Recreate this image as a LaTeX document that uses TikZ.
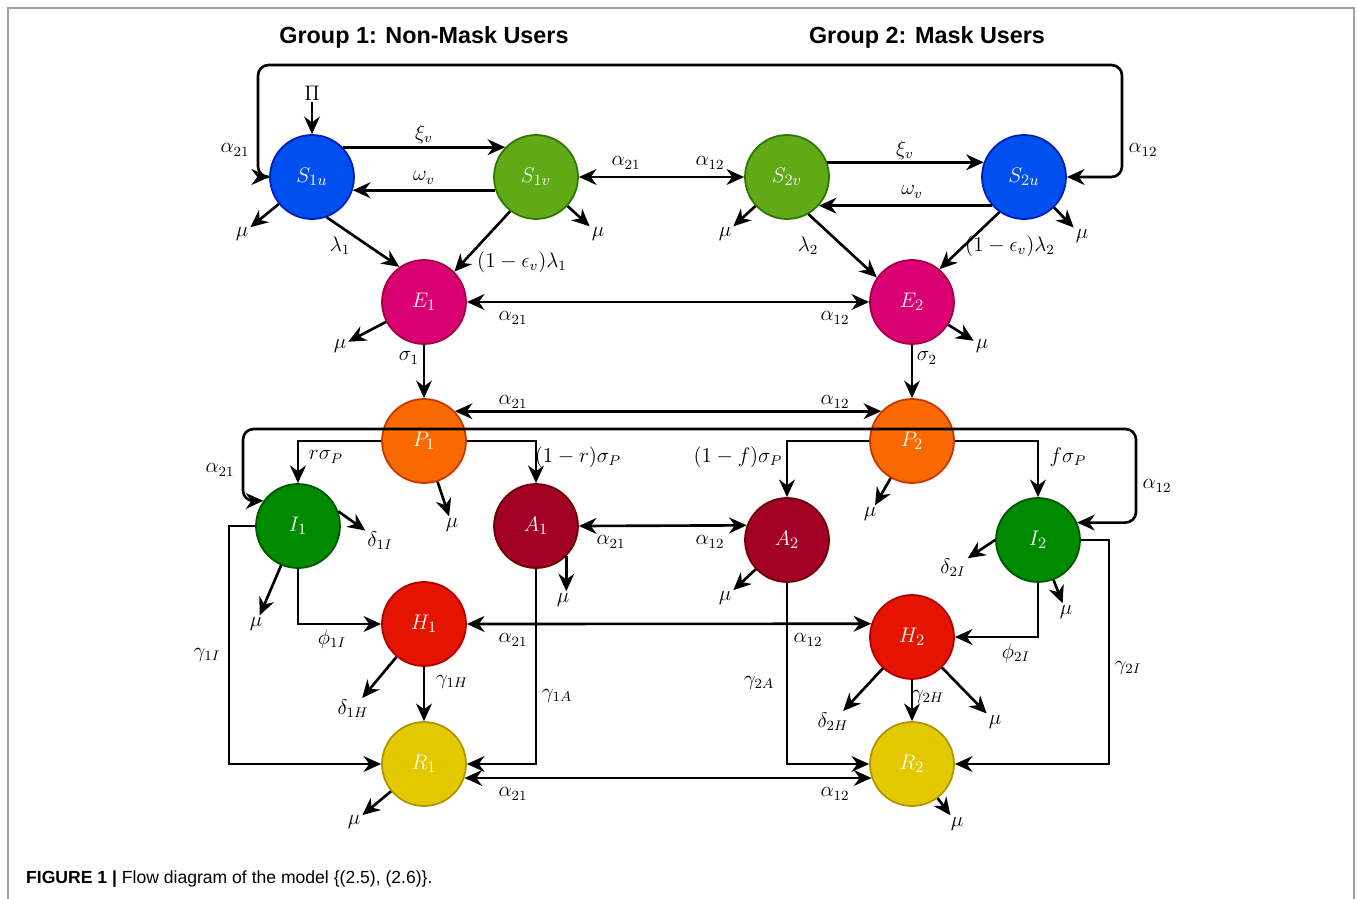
\documentclass[tikz,border=0pt]{standalone}
\usepackage[no-math]{fontspec}
\usepackage{amsmath}
\usetikzlibrary{arrows.meta}
\newfontfamily\arial{Liberation Sans}
\definecolor{sblue}{HTML}{0050EF}
\definecolor{sblueb}{HTML}{001DBC}
\definecolor{sgreen}{HTML}{60A917}
\definecolor{sgreenb}{HTML}{2D7600}
\definecolor{emag}{HTML}{D80073}
\definecolor{emagb}{HTML}{A50040}
\definecolor{porange}{HTML}{FA6800}
\definecolor{porangeb}{HTML}{C73500}
\definecolor{igreen}{HTML}{008A00}
\definecolor{igreenb}{HTML}{005700}
\definecolor{acrim}{HTML}{A20025}
\definecolor{acrimb}{HTML}{6F0000}
\definecolor{hred}{HTML}{E51400}
\definecolor{hredb}{HTML}{B20000}
\definecolor{ryell}{HTML}{E3C800}
\definecolor{ryellb}{HTML}{B09500}

\begin{document}
\begin{tikzpicture}[x=0.02cm, y=-0.02cm,
	nstyle/.style={circle, line width=1pt, minimum size=1.68cm, inner sep=0pt,
	text=white, font=\fontsize{12.5}{14}\selectfont},
	lstyle/.style={inner sep=1pt, font=\fontsize{12}{14}\selectfont},
	ar/.style={-{Stealth[length=10pt,width=9pt]}, line width=1.5pt},
	dar/.style={{Stealth[length=10pt,width=9pt]}-{Stealth[length=10pt,width=9pt]}, line width=1.5pt}
	]
	\useasboundingbox (0,0) rectangle (1357,899);
	\fill[white] (0,0) rectangle (1357,899);
	\draw[gray!75, line width=0.8pt] (8,899) -- (8,8) -- (1354,8) -- (1354,899);
	
	\node[font=\arial\fontsize{13.3}{16}\selectfont\bfseries] (g1) at (424,37) {Group 1: Non-Mask Users};
	\node[font=\arial\fontsize{13.3}{16}\selectfont\bfseries] (g2) at (927,37) {Group 2: Mask Users};
	\node[anchor=west, font=\arial\fontsize{10}{12}\selectfont] (cap) at (20,879)
	{\textbf{FIGURE 1 |} Flow diagram of the model \{(2.5), (2.6)\}.};
	
	\node[nstyle, fill=sblue, draw=sblueb] (S1u) at (312,177) {$S_{1u}$};
	\node[nstyle, fill=sgreen, draw=sgreenb] (S1v) at (536,177) {$S_{1v}$};
	\node[nstyle, fill=sgreen, draw=sgreenb] (S2v) at (787,177) {$S_{2v}$};
	\node[nstyle, fill=sblue, draw=sblueb] (S2u) at (1024,177) {$S_{2u}$};
	\node[nstyle, fill=emag, draw=emagb] (E1) at (424,302) {$E_1$};
	\node[nstyle, fill=emag, draw=emagb] (E2) at (912,302) {$E_2$};
	\node[nstyle, fill=porange, draw=porangeb] (P1) at (424,441) {$P_1$};
	\node[nstyle, fill=porange, draw=porangeb] (P2) at (912,441) {$P_2$};
	\node[nstyle, fill=igreen, draw=igreenb] (I1) at (298,526) {$I_1$};
	\node[nstyle, fill=acrim, draw=acrimb] (A1) at (536,526) {$A_1$};
	\node[nstyle, fill=acrim, draw=acrimb] (A2) at (787,540) {$A_2$};
	\node[nstyle, fill=igreen, draw=igreenb] (I2) at (1038,540) {$I_2$};
	\node[nstyle, fill=hred, draw=hredb] (H1) at (424,624) {$H_1$};
	\node[nstyle, fill=hred, draw=hredb] (H2) at (912,637) {$H_2$};
	\node[nstyle, fill=ryell, draw=ryellb] (R1) at (424,764) {$R_1$};
	\node[nstyle, fill=ryell, draw=ryellb] (R2) at (912,764) {$R_2$};
	
	\node[lstyle] (Pi) at (312,93) {$\Pi$};
	\node[lstyle] (muS1u) at (242,234) {$\mu$};
	\node[lstyle] (muS1v) at (598,234) {$\mu$};
	\node[lstyle] (muS2v) at (725,234) {$\mu$};
	\node[lstyle] (muS2u) at (1082,236) {$\mu$};
	\node[lstyle] (muE1) at (340,346) {$\mu$};
	\node[lstyle] (muE2) at (982,346) {$\mu$};
	\node[lstyle] (muP1) at (452,525) {$\mu$};
	\node[lstyle] (muP2) at (870,514) {$\mu$};
	\node[lstyle] (muI1) at (256,624) {$\mu$};
	\node[lstyle] (muA1) at (563,600) {$\mu$};
	\node[lstyle] (muA2) at (725,598) {$\mu$};
	\node[lstyle] (muI2) at (1066,612) {$\mu$};
	\node[lstyle] (muH2) at (995,722) {$\mu$};
	\node[lstyle] (muR1) at (354,822) {$\mu$};
	\node[lstyle] (muR2) at (957,824) {$\mu$};
	\node[lstyle] (d1I) at (380,541) {$\delta_{1I}$};
	\node[lstyle] (d2I) at (953,568) {$\delta_{2I}$};
	\node[lstyle] (d1H) at (353,709) {$\delta_{1H}$};
	\node[lstyle] (d2H) at (833,722) {$\delta_{2H}$};
	
	\node[lstyle] (la1) at (235,150) {$\alpha_{21}$};
	\node[lstyle] (la2) at (1143,150) {$\alpha_{12}$};
	\node[lstyle] (lxi1) at (424,134) {$\xi_v$};
	\node[lstyle] (lom1) at (424,178) {$\omega_v$};
	\node[lstyle] (la3) at (626,163) {$\alpha_{21}$};
	\node[lstyle] (la4) at (710,163) {$\alpha_{12}$};
	\node[lstyle] (lxi2) at (905,150) {$\xi_v$};
	\node[lstyle] (lom2) at (912,192) {$\omega_v$};
	\node[lstyle] (llam1) at (340,246) {$\lambda_1$};
	\node[lstyle] (leps1) at (522,262) {$(1-\epsilon_v)\lambda_1$};
	\node[lstyle] (llam2) at (808,246) {$\lambda_2$};
	\node[lstyle] (leps2) at (1010,246) {$(1-\epsilon_v)\lambda_2$};
	\node[lstyle] (la5) at (513,318) {$\alpha_{21}$};
	\node[lstyle] (la6) at (835,318) {$\alpha_{12}$};
	\node[lstyle] (lsig1) at (409,358) {$\sigma_1$};
	\node[lstyle] (lsig2) at (927,358) {$\sigma_2$};
	\node[lstyle] (la7) at (513,402) {$\alpha_{21}$};
	\node[lstyle] (la8) at (835,402) {$\alpha_{12}$};
	\node[lstyle] (la9) at (220,470) {$\alpha_{21}$};
	\node[lstyle] (la10) at (1157,486) {$\alpha_{12}$};
	\node[lstyle] (lr1) at (326,457) {$r\sigma_P$};
	\node[lstyle] (lr2) at (578,457) {$(1-r)\sigma_P$};
	\node[lstyle] (lf1) at (738,457) {$(1-f)\sigma_P$};
	\node[lstyle] (lf2) at (1068,457) {$f\sigma_P$};
	\node[lstyle] (la11) at (611,542) {$\alpha_{21}$};
	\node[lstyle] (la12) at (710,542) {$\alpha_{12}$};
	\node[lstyle] (lphi1) at (332,639) {$\phi_{1I}$};
	\node[lstyle] (la13) at (513,640) {$\alpha_{21}$};
	\node[lstyle] (la14) at (808,640) {$\alpha_{12}$};
	\node[lstyle] (lphi2) at (1016,653) {$\phi_{2I}$};
	\node[lstyle] (lg1I) at (207,655) {$\gamma_{1I}$};
	\node[lstyle] (lg1H) at (452,682) {$\gamma_{1H}$};
	\node[lstyle] (lg1A) at (557,696) {$\gamma_{1A}$};
	\node[lstyle] (lg2A) at (759,683) {$\gamma_{2A}$};
	\node[lstyle] (lg2H) at (928,697) {$\gamma_{2H}$};
	\node[lstyle] (lg2I) at (1128,668) {$\gamma_{2I}$};
	\node[lstyle] (la15) at (513,794) {$\alpha_{21}$};
	\node[lstyle] (la16) at (835,794) {$\alpha_{12}$};
	
	\draw[ar] (Pi) -- (S1u);
	\draw[dar, rounded corners=6pt] (S2u.east) -| (1122,65) -| (258,177) -- (S1u.west);
	\draw[ar] (S1u.44) -- (S1v.136);
	\draw[ar] (S1v.198) -- (S1u.-18);
	\draw[dar] (S1v.east) -- (S2v.west);
	\draw[ar] (S2v.20) -- (S2u.160);
	\draw[ar] (S2u.222) -- (S2v.-42);
	\draw[ar] (S1u) -- (muS1u);
	\draw[ar] (S1v) -- (muS1v);
	\draw[ar] (S2v) -- (muS2v);
	\draw[ar] (S2u) -- (muS2u);
	\draw[ar] (S1u.-70) -- (E1.125);
	\draw[ar] (S1v.-127) -- (E1.45);
	\draw[ar] (S2v.-60) -- (E2.145);
	\draw[ar] (S2u.-125) -- (E2.50);
	
	\draw[dar] (E1.east) -- (E2.west);
	\draw[ar] (E1) -- (muE1);
	\draw[ar] (E2) -- (muE2);
	\draw[ar] (E1) -- (P1);
	\draw[ar] (E2) -- (P2);
	\draw[dar] (P1.44) -- (P2.136);
	\draw[ar] (P1.west) -| (I1.north);
	\draw[ar] (P1.east) -| (A1.north);
	\draw[ar] (P2.west) -| (A2.north);
	\draw[ar] (P2.east) -| (I2.north);
	\draw[dar, rounded corners=6pt] (I2.24) -| (1136,429) -| (243,501) -- (I1.144);
	\draw[ar] (P1) -- (muP1);
	\draw[ar] (P2) -- (muP2);
	
	\draw[dar] (A1.east) -- (A2.160);
	\draw[ar] (I1) -- (muI1);
	\draw[ar] (I1.20) -- (d1I);
	\draw[ar] (A1.-45) -- (A1.-45 |- muA1.north);
	\draw[ar] (A2) -- (muA2);
	\draw[ar] (I2) -- (muI2);
	\draw[ar] (I2.west) -- (d2I);
	
	\draw[ar] (I1.south) |- (H1.west);
	\draw[ar] (I1.west) -- ++(-26,0) |- (R1.west);
	\draw[ar] (A1.south) |- (R1.east);
	\draw[ar] (H1) -- (R1);
	\draw[ar] (H1) -- (d1H);
	\draw[dar] (H1.east) -- (H2.162);
	\draw[dar] (R1.-19) -- (R2.199);
	\draw[ar] (R1) -- (muR1);
	\draw[ar] (A2.south) |- (R2.west);
	\draw[ar] (I2.south) |- (H2.east);
	\draw[ar] (I2.east) -- ++(28,0) |- (R2.east);
	\draw[ar] (H2) -- (R2);
	\draw[ar] (H2) -- (d2H);
	\draw[ar] (H2) -- (muH2);
	\draw[ar] (R2) -- (muR2);
\end{tikzpicture}
\end{document}
